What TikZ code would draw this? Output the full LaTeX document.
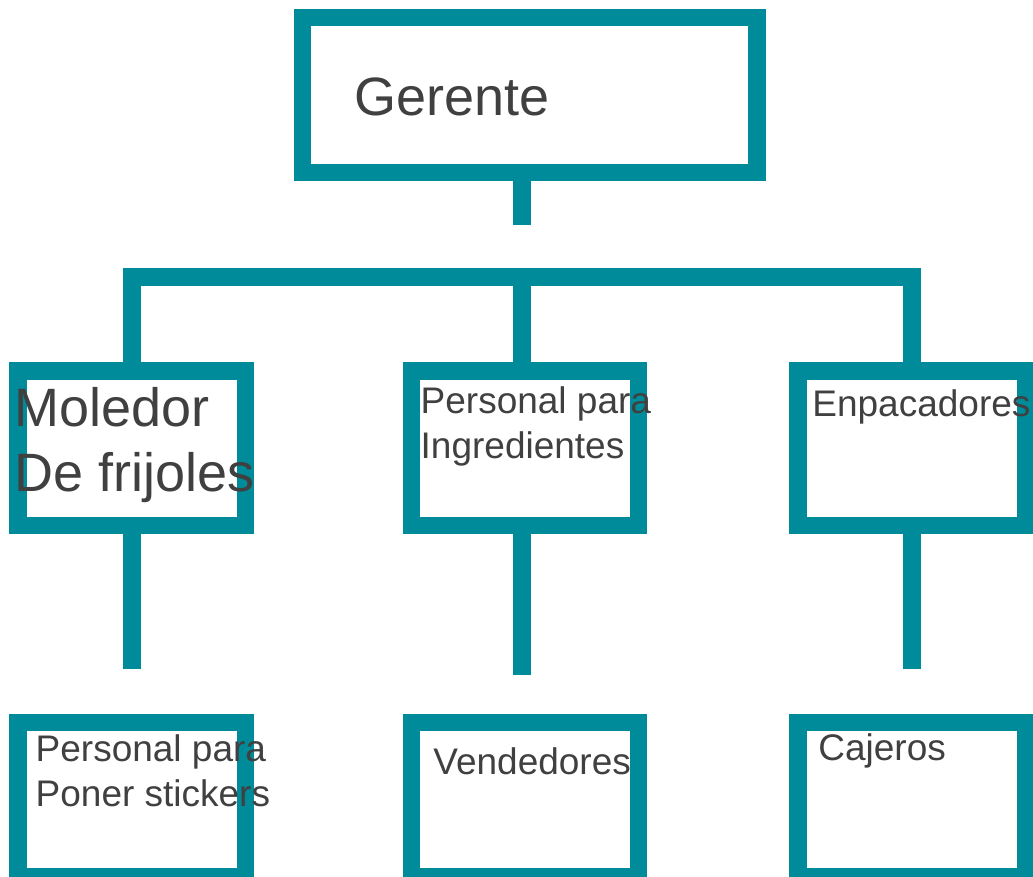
\documentclass[tikz,border=0pt]{standalone}
\usepackage{fontspec}
\setmainfont{Liberation Sans}
\usepackage{xcolor}
\definecolor{orgteal}{RGB}{0,139,154}
\definecolor{labelgray}{RGB}{64,64,64}
\tikzset{
  post/.style={draw=orgteal,line width=8.7pt,minimum width=113.6pt,minimum height=77.35pt,inner sep=0pt},
  link/.style={draw=orgteal,line width=8.7pt},
  bigtxt/.style={anchor=base west,inner sep=0pt,text=labelgray,align=left,font=\fontsize{27}{32.5}\selectfont},
  smalltxt/.style={anchor=base west,inner sep=0pt,text=labelgray,align=left,font=\fontsize{18.5}{22.5}\selectfont}
}
\begin{document}
\begin{tikzpicture}[x=0.5pt,y=-0.5pt]
  \useasboundingbox (0,0) rectangle (1033,877);
  % boxes
  \node[post,minimum width=227.4pt] (ger) at (529.6,95) {};
  \node[post] (mol) at (131.7,448.3) {};
  \node[post] (ing) at (525,448.3) {};
  \node[post] (emp) at (911.7,448.3) {};
  \node[post] (sti) at (131.7,799.6) {};
  \node[post] (ven) at (525,799.6) {};
  \node[post] (caj) at (911.7,799.6) {};
  % connectors
  \coordinate (stubG) at (522,225);
  \coordinate (busL) at (132,277);
  \coordinate (busM) at (522,277);
  \coordinate (busR) at (912,277);
  \coordinate (stubM) at (132,669);
  \coordinate (stubI) at (522,675);
  \coordinate (stubE) at (912,669);
  \draw[link] (ger.south -| stubG) -- (stubG);
  \draw[link] (mol.north -| busL) -- (busL) -- (busR) -- (emp.north -| busR);
  \draw[link] (ing.north -| busM) -- (busM);
  \foreach \b/\s in {mol/stubM,ing/stubI,emp/stubE}
    \draw[link] (\b.south -| \s) -- (\s);
  % labels (base = last line)
  \node[bigtxt] (gertxt) at (354,116) {Gerente};
  \node[bigtxt] (moltxt) at (14,491.7) {Moledor\\De frijoles};
  \node[smalltxt] (ingtxt) at (420.3,458.3) {Personal para\\Ingredientes};
  \node[smalltxt] (emptxt) at (812,416.7) {Enpacadores};
  \node[smalltxt] (stitxt) at (35.3,806) {Personal para\\Poner stickers};
  \node[smalltxt] (ventxt) at (433,774) {Vendedores};
  \node[smalltxt] (cajtxt) at (818,760) {Cajeros};
\end{tikzpicture}
\end{document}
